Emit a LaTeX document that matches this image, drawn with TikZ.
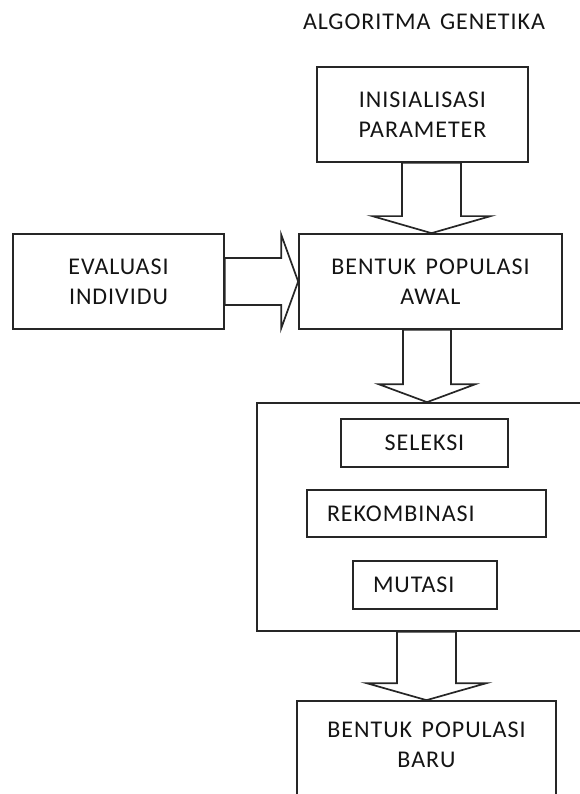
\documentclass[tikz,border=0pt]{standalone}
\usepackage{fontspec}
\setmainfont{Carlito}[LetterSpace=4.0, WordSpace=1.5]
\usetikzlibrary{calc}
\tikzset{
  box/.style={draw=black!85, line width=1.7pt, rectangle, inner sep=0pt, align=center,
    font=\fontsize{24}{30}\selectfont, text=black!92},
  lbl/.style={inner sep=0pt, align=center, font=\fontsize{24}{30}\selectfont, text=black!92},
  barrow/.style={draw=black!85, line width=1.7pt, line join=miter},
}
\newcommand\DownBlockArrow[5]{%
  \draw[barrow] ($(#1)+(-#3,0)$) -- ($(#2)+(-#3,-#5)$) -- ($(#2)+(-#4,-#5)$) -- (#2)
    -- ($(#2)+(#4,-#5)$) -- ($(#2)+(#3,-#5)$) -- ($(#1)+(#3,0)$) -- cycle;}
\newcommand\RightBlockArrow[5]{%
  \draw[barrow] ($(#1)+(0,-#3)$) -- ($(#2)+(-#5,-#3)$) -- ($(#2)+(-#5,-#4)$) -- (#2)
    -- ($(#2)+(-#5,#4)$) -- ($(#2)+(-#5,#3)$) -- ($(#1)+(0,#3)$) -- cycle;}
\begin{document}
\begin{tikzpicture}[x=1pt,y=-1pt]
\useasboundingbox (0,0) rectangle (579,794);
\node[lbl] (title) at (424,22) {ALGORITMA GENETIKA};
\node[box, minimum width=211pt, minimum height=95pt] (init) at (422.5,114.5) {INISIALISASI\\PARAMETER};
\node[box, minimum width=211pt, minimum height=95pt] (eval) at (118.5,281.5) {EVALUASI\\INDIVIDU};
\node[box, minimum width=263pt, minimum height=95pt] (awal) at (430.5,281.5) {BENTUK POPULASI\\AWAL};
\node[box, minimum width=328pt, minimum height=228pt] (gen) at (421,517) {};
\node[box, minimum width=167pt, minimum height=48pt] (sel) at (424.5,443) {SELEKSI};
\node[box, minimum width=239pt, minimum height=47pt, text width=199pt, align=left, inner xsep=20pt] (rek) at (426.5,513.5) {REKOMBINASI};
\node[box, minimum width=144pt, minimum height=48pt, text width=104pt, align=left, inner xsep=20pt] (mut) at (425,585) {MUTASI};
\node[box, minimum width=259pt, minimum height=120pt] (baru) at (426.5,761) {};
\node[lbl] (barulbl) at ([yshift=-45pt]baru.north) {BENTUK POPULASI\\BARU};
% block arrows
\coordinate (s1) at ([xshift=9pt]init.south);
\coordinate (t1) at (s1 |- awal.north);
\DownBlockArrow{s1}{t1}{29.5}{59}{17}
\RightBlockArrow{eval.east}{awal.west}{23.5}{47}{17}
\coordinate (s3) at ([xshift=-3.5pt]awal.south);
\coordinate (t3) at (s3 |- gen.north);
\DownBlockArrow{s3}{t3}{24}{48.5}{18}
\coordinate (s4) at ([xshift=5.5pt]gen.south);
\coordinate (t4) at (s4 |- baru.north);
\DownBlockArrow{s4}{t4}{29.5}{60}{17}
\end{tikzpicture}
\end{document}
